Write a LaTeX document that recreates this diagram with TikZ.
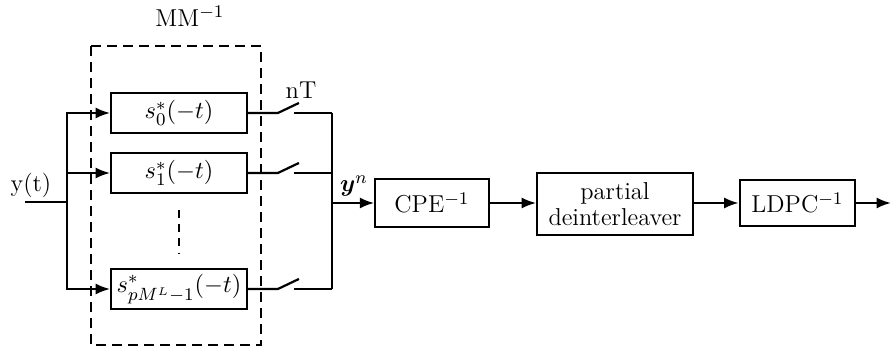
\documentclass[tikz,border=0pt]{standalone}
\usepackage{amsmath, amssymb}
\usepackage{tikz}
\usetikzlibrary{positioning, calc, arrows.meta}

\tikzset{
  blk/.style={draw, line width=1pt, align=center, inner sep=2pt},
  wire/.style={line width=1pt},
  arr/.style={wire, -{Latex[length=6.5pt, width=5pt]}},
  dashline/.style={line width=1pt, dash pattern=on 4.5pt off 2.7pt},
}

\begin{document}
\begin{tikzpicture}[x=0.45pt, y=-0.45pt, font=\fontsize{11}{13.5}\selectfont]
  \useasboundingbox (0,0) rectangle (891,349);
  % matched filter bank
  \draw[dashline] (91,46) rectangle (261,345);
  \node (mmlab) at (190,16) {MM$^{-1}$};
  \node[blk, minimum width=61pt, minimum height=18pt] (f0) at (179,113) {$s_0^*(-t)$};
  \node[blk, minimum width=61pt, minimum height=18pt] (f1) at (179,173) {$s_1^*(-t)$};
  \node[blk, minimum width=61pt, minimum height=18pt] (fL) at (179,289) {$s_{pM^L-1}^*(-t)$};
  \draw[wire, dash pattern=on 3.6pt off 2.8pt] (179,210) -- (179,253);
  % input
  \coordinate (in) at (25,202);
  \coordinate (split) at (67,202);
  \node (ylab) at (31,185) {y(t)};
  \draw[wire] (in) -- (split);
  \foreach \f in {f0,f1,fL}
    \draw[arr] (split) |- (\f.west);
  % sampling switches
  \coordinate (bus) at (332,203);
  \node (ntlab) at (301,90) {nT};
  \foreach \f in {f0,f1,fL}{
    \draw[wire] (\f.east) -- ++(30,0) -- ++(21,-10);
    \draw[wire] ($(\f.east)+(46,0)$) -- (bus |- \f.east);
  }
  \draw[wire] (bus |- f0.east) -- (bus |- fL.east);
  % decoder chain
  \node (ylab2) at (354,186) {$\boldsymbol{y}^n$};
  \node[blk, minimum width=51pt, minimum height=21.5pt] (cpe) at (432,203) {CPE$^{-1}$};
  \node[blk, minimum width=70pt, minimum height=28pt, inner sep=1pt] (deint) at (615,204) {partial\\[-2pt]deinterleaver};
  \node[blk, minimum width=52pt, minimum height=21pt] (ldpc) at (797.5,203) {LDPC$^{-1}$};
  \coordinate (out) at (891,203);
  \draw[arr] (bus) -- (cpe);
  \draw[arr] (cpe) -- (deint.west |- cpe);
  \draw[arr] (deint.east |- ldpc) -- (ldpc);
  \draw[arr] (ldpc) -- (out);
\end{tikzpicture}
\end{document}
